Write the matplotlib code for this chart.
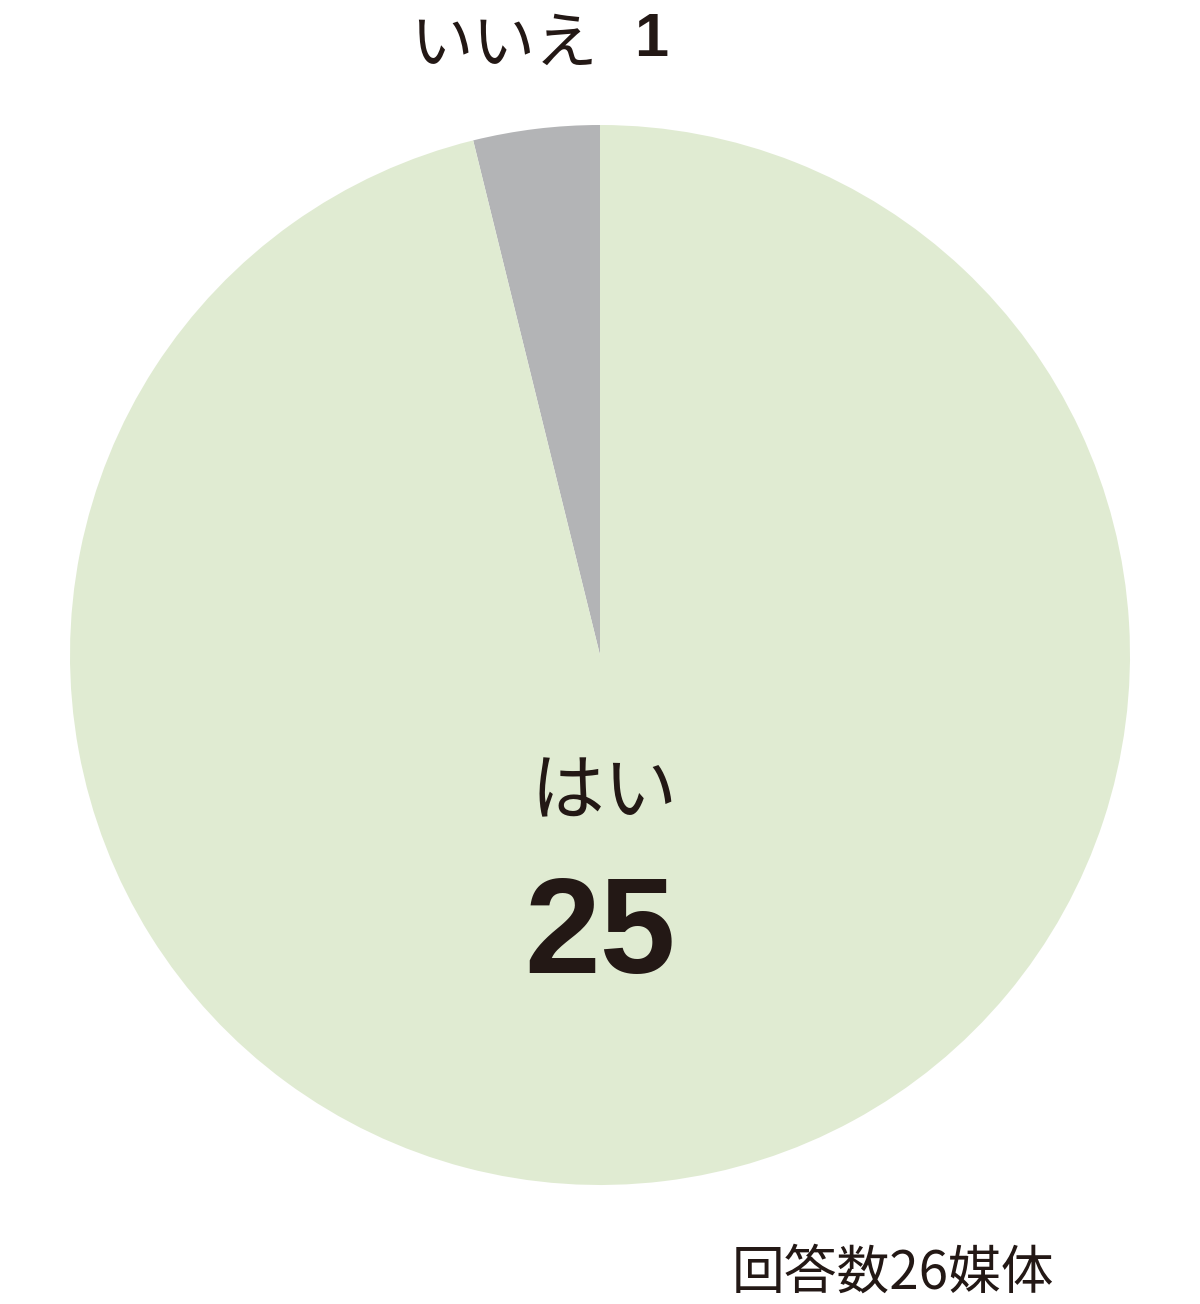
import matplotlib
matplotlib.use("Agg")
import matplotlib.pyplot as plt

categories = ["いいえ", "はい"]
values = [1, 25]
total_label = "回答数26媒体"

colors = ["#b3b4b6", "#e0ebd2"]
text_color = "#231815"
W, H = 1200, 1304

fig = plt.figure(figsize=(W / 100, H / 100), dpi=100)
fig.patch.set_facecolor("white")

cx, cy, r = 600, 655, 530
ax = fig.add_axes([(cx - r) / W, 1 - (cy + r) / H, 2 * r / W, 2 * r / H])
ax.pie(values, colors=colors, startangle=90, counterclock=True,
       wedgeprops=dict(linewidth=0))
ax.set_xlim(-1, 1)
ax.set_ylim(-1, 1)
ax.set_aspect("equal")
ax.axis("off")

def fx(x):
    return x / W

def fy(y):
    return 1 - y / H

jp = ["Noto Sans CJK JP", "DejaVu Sans"]
num = ["Liberation Sans", "DejaVu Sans"]

# top label (いいえ 1)
fig.text(fx(410), fy(45), categories[0], fontsize=45, family=jp,
         color=text_color, ha="left", va="center")
fig.text(fx(634), fy(41), str(values[0]), fontsize=44, family=num,
         weight="bold", color=text_color, ha="left", va="center")

# main slice label (はい 25)
fig.text(fx(604), fy(794), categories[1], fontsize=53, family=jp,
         color=text_color, ha="center", va="center")
fig.text(fx(600), fy(938), str(values[1]), fontsize=98, family=num,
         weight="bold", color=text_color, ha="center", va="center")

# footnote
fig.text(fx(1054), fy(1273), total_label, fontsize=38, family=jp,
         color=text_color, ha="right", va="center")

fig.savefig("out.png", dpi=100, facecolor="white")
